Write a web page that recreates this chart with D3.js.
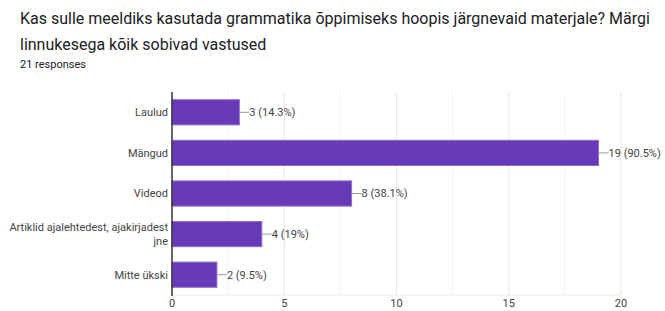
<!DOCTYPE html>
<html>
<head>
<meta charset="utf-8">
<script src="https://cdn.jsdelivr.net/npm/d3@7"></script>
<style>
  body { margin: 0; background: #fff; font-family: Roboto, Arial, sans-serif; }
  #chart { width: 665px; height: 311px; overflow: hidden; }
</style>
</head>
<body>
<div id="chart"></div>
<script>
// data
var categories = ["Laulud", "Mängud", "Videod", "Artiklid ajalehtedest, ajakirjadest|jne", "Mitte ükski"];
var counts = [3, 19, 8, 4, 2];
var percents = ["14.3%", "90.5%", "38.1%", "19%", "9.5%"];
var xTicks = [0, 5, 10, 15, 20];
var titleLines = ["Kas sulle meeldiks kasutada grammatika õppimiseks hoopis järgnevaid materjale? Märgi",
                  "linnukesega kõik sobivad vastused"];
var subtitle = "21 responses";

var width = 665, height = 311;
var plot = {left: 172, right: 621, top: 92, bottom: 295};

var svg = d3.select("#chart").append("svg")
  .attr("width", width)
  .attr("height", height);

// title
svg.selectAll(".title")
  .data(titleLines)
  .enter().append("text")
  .attr("class", "title")
  .attr("x", 20)
  .attr("y", function(d, i) { return 24 + i * 26; })
  .style("font-size", "16px")
  .style("fill", "#202124")
  .text(function(d) { return d; });

svg.append("text")
  .attr("x", 20)
  .attr("y", 68)
  .style("font-size", "11px")
  .style("fill", "#202124")
  .text(subtitle);

var x = d3.scaleLinear().domain([0, 20]).range([plot.left, plot.right]);
var y = d3.scaleBand().domain(categories).range([plot.top, plot.bottom]).paddingInner(0.38).paddingOuter(0.19);

// grid
var minor = d3.range(2.5, 20, 5);
svg.append("g").selectAll("line")
  .data(minor)
  .enter().append("line")
  .attr("x1", function(d) { return x(d); })
  .attr("x2", function(d) { return x(d); })
  .attr("y1", plot.top)
  .attr("y2", plot.bottom)
  .attr("stroke", "#f3f3f3");

svg.append("g").selectAll("line")
  .data(xTicks.slice(1))
  .enter().append("line")
  .attr("x1", function(d) { return x(d); })
  .attr("x2", function(d) { return x(d); })
  .attr("y1", plot.top)
  .attr("y2", plot.bottom)
  .attr("stroke", "#e6e6e6");

svg.append("line")
  .attr("x1", plot.left).attr("x2", plot.right)
  .attr("y1", plot.bottom).attr("y2", plot.bottom)
  .attr("stroke", "#ececec");

// bars
svg.append("g").selectAll("rect")
  .data(counts)
  .enter().append("rect")
  .attr("x", x(0))
  .attr("y", function(d, i) { return y(categories[i]); })
  .attr("width", function(d) { return x(d) - x(0); })
  .attr("height", y.bandwidth())
  .attr("fill", "#673ab7")
  .attr("stroke", "#8e6cc9")
  .attr("stroke-width", 1);

// axis line
svg.append("line")
  .attr("x1", plot.left).attr("x2", plot.left)
  .attr("y1", plot.top).attr("y2", plot.bottom + 1)
  .attr("stroke", "#333")
  .attr("stroke-width", 1.5);

// value labels
var lab = svg.append("g").selectAll("g")
  .data(counts)
  .enter().append("g")
  .attr("transform", function(d, i) { return "translate(" + x(d) + "," + (y(categories[i]) + y.bandwidth() / 2) + ")"; });

lab.append("line")
  .attr("x1", 0).attr("x2", 10)
  .attr("stroke", "#999");

lab.append("text")
  .attr("x", 10)
  .attr("dy", "0.35em")
  .style("font-size", "11px")
  .style("fill", "#444")
  .text(function(d, i) { return d + " (" + percents[i] + ")"; });

// category labels
var cat = svg.append("g").selectAll("text")
  .data(categories)
  .enter().append("text")
  .attr("x", plot.left - 4)
  .attr("y", function(d) { return y(d) + y.bandwidth() / 2; })
  .attr("text-anchor", "end")
  .style("font-size", "11px")
  .style("fill", "#444");

cat.each(function(d) {
  var parts = d.split("|");
  var t = d3.select(this);
  parts.forEach(function(p, k) {
    t.append("tspan")
      .attr("x", plot.left - 4)
      .attr("dy", k === 0 ? (0.35 - (parts.length - 1) * 0.65) + "em" : "1.3em")
      .text(p);
  });
});

// x tick labels
svg.append("g").selectAll("text")
  .data(xTicks)
  .enter().append("text")
  .attr("x", function(d) { return x(d); })
  .attr("y", 307)
  .attr("text-anchor", "middle")
  .style("font-size", "11px")
  .style("fill", "#444")
  .text(function(d) { return d; });
</script>
</body>
</html>
